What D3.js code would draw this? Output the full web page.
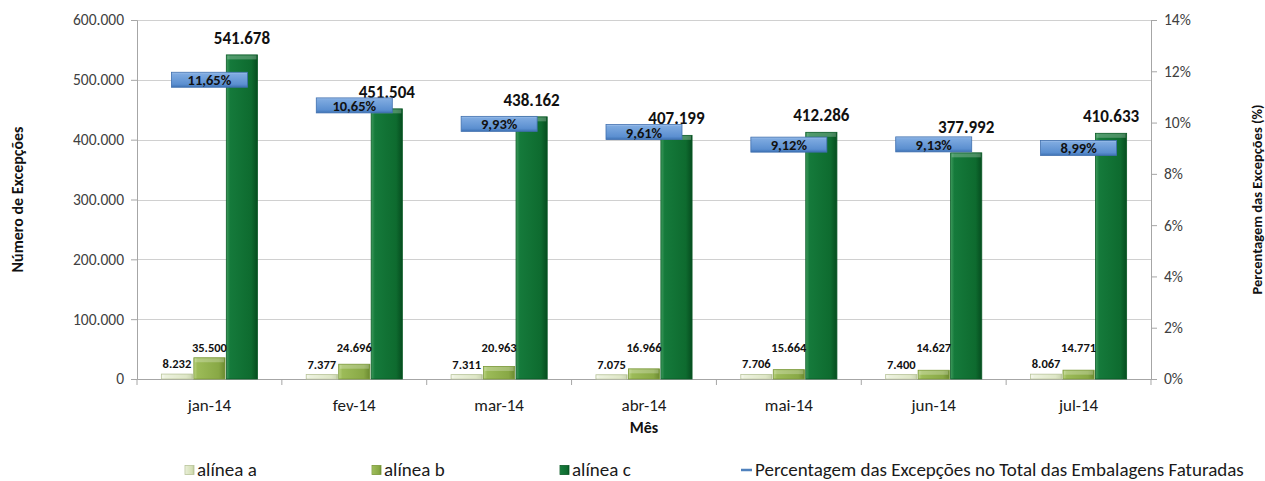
<!DOCTYPE html>
<html>
<head>
<meta charset="utf-8">
<script src="https://cdn.jsdelivr.net/npm/d3@7"></script>
<style>
  body { margin: 0; background: #fff; }
  svg text { font-family: Calibri, Carlito, Lato, "Open Sans", sans-serif; }
</style>
</head>
<body>
<script>
// Data
const months = ["jan-14", "fev-14", "mar-14", "abr-14", "mai-14", "jun-14", "jul-14"];
const alineaA = [8232, 7377, 7311, 7075, 7706, 7400, 8067];
const alineaB = [35500, 24696, 20963, 16966, 15664, 14627, 14771];
const alineaC = [541678, 451504, 438162, 407199, 412286, 377992, 410633];
const percent = [0.1165, 0.1065, 0.0993, 0.0961, 0.0912, 0.0913, 0.0899];
const leftTicks = [0, 100000, 200000, 300000, 400000, 500000, 600000];
const rightTicks = [0, 0.02, 0.04, 0.06, 0.08, 0.10, 0.12, 0.14];

// extra lift (px) of the alínea c labels, as placed in the original
const cLabelLift = [0, 0, 0, 0, 0, 9, 0];

const series = [
  { key: "a", name: "alínea a", values: alineaA },
  { key: "b", name: "alínea b", values: alineaB },
  { key: "c", name: "alínea c", values: alineaC }
];

const width = 1265, height = 481;
const margin = { top: 20, right: 114, bottom: 102, left: 137 };
const innerW = width - margin.left - margin.right,
    innerH = height - margin.top - margin.bottom;

const pt = d3.formatLocale({ decimal: ",", thousands: ".", grouping: [3], currency: ["", "€"] });
const fmtNum = pt.format(",.0f");
const fmtPct = pt.format(".2%");
const fmtTickPct = pt.format(".0%");

const svg = d3.select("body").append("svg")
    .attr("width", width)
    .attr("height", height);

// gradients for the bevelled bars
const defs = svg.append("defs");
const gradients = {
  a: ["#f6f8ee", "#e6edd3", "#d3deb4", "#b9c797"],
  b: ["#b9d281", "#9cbb58", "#88a845", "#6b8a30"],
  c: ["#3d9a5c", "#157a3b", "#0e6b2f", "#064d1f"],
  box: ["#a7c6ee", "#7eaae0", "#5b8fd0", "#3e72b4"]
};
Object.entries(gradients).forEach(([k, c]) => {
  const gr = defs.append("linearGradient").attr("id", "grad-" + k)
      .attr("x1", 0).attr("x2", k === "box" ? 0 : 1).attr("y1", 0).attr("y2", k === "box" ? 1 : 0);
  gr.append("stop").attr("offset", "0%").attr("stop-color", c[0]);
  gr.append("stop").attr("offset", "12%").attr("stop-color", c[1]);
  gr.append("stop").attr("offset", "80%").attr("stop-color", c[2]);
  gr.append("stop").attr("offset", "100%").attr("stop-color", c[3]);
});
const strokes = { a: "#b8c49a", b: "#7a9838", c: "#0a5a26" };

const g = svg.append("g").attr("transform", `translate(${margin.left},${margin.top})`);

const x = d3.scaleBand().domain(months).range([0, innerW]).paddingInner(0).paddingOuter(0);
const xInner = d3.scaleBand().domain(series.map(s => s.key))
    .range([0, x.bandwidth()]).paddingOuter(0.75).paddingInner(0.04);
const y = d3.scaleLinear().domain([0, 600000]).range([innerH, 0]);
const y2 = d3.scaleLinear().domain([0, 0.14]).range([innerH, 0]);

// gridlines
g.append("g").selectAll("line").data(leftTicks.slice(1)).join("line")
    .attr("x1", 0).attr("x2", innerW)
    .attr("y1", d => Math.round(y(d)) + 0.5).attr("y2", d => Math.round(y(d)) + 0.5)
    .attr("stroke", "#d0d0d0");

// left axis
const yAxis = g.append("g")
    .call(d3.axisLeft(y).tickValues(leftTicks).tickFormat(fmtNum).tickSize(6).tickPadding(7));
// right axis
const y2Axis = g.append("g").attr("transform", `translate(${innerW},0)`)
    .call(d3.axisRight(y2).tickValues(rightTicks).tickFormat(fmtTickPct).tickSize(6).tickPadding(7));
// x axis
const xAxis = g.append("g").attr("transform", `translate(0,${innerH})`)
    .call(d3.axisBottom(x).tickSize(0).tickPadding(20));
xAxis.selectAll(".tick").append("line")
    .attr("x1", x.bandwidth() / 2).attr("x2", x.bandwidth() / 2)
    .attr("y1", 0).attr("y2", 6).attr("stroke", "#a6a6a6");
xAxis.append("line").attr("x1", 0).attr("x2", 0)
    .attr("y1", 0).attr("y2", 6).attr("stroke", "#a6a6a6");

[yAxis, y2Axis, xAxis].forEach(a => {
  a.select(".domain").attr("stroke", "#a6a6a6");
  a.selectAll(".tick line").attr("stroke", "#a6a6a6");
  a.selectAll("text").attr("fill", "#404040").style("font-size", "15.5px");
});
xAxis.selectAll(".tick text").style("font-size", "17px").attr("fill", "#1a1a1a");

// bars
const groups = g.append("g").selectAll("g").data(months).join("g")
    .attr("transform", d => `translate(${x(d)},0)`);

series.forEach(s => {
  groups.append("rect")
      .attr("x", xInner(s.key))
      .attr("width", xInner.bandwidth())
      .attr("y", (d, i) => y(s.values[i]))
      .attr("height", (d, i) => innerH - y(s.values[i]))
      .attr("fill", `url(#grad-${s.key})`)
      .attr("stroke", strokes[s.key])
      .attr("stroke-width", 0.8);
  // top bevel highlight
  groups.append("rect")
      .attr("x", xInner(s.key) + 1)
      .attr("width", xInner.bandwidth() - 2)
      .attr("y", (d, i) => y(s.values[i]) + 0.5)
      .attr("height", (d, i) => Math.min(4, innerH - y(s.values[i])))
      .attr("fill", "#ffffff").attr("opacity", 0.25);
});

// value labels; small b labels are kept above the a labels
const labelY = (key, v, i) => {
  if (key === "c") return y(v) - 11 - cLabelLift[i];
  if (key === "b") return Math.min(y(v) - 5, innerH - 27);
  return y(v) - 6;
};
series.forEach(s => {
  groups.append("text")
      .attr("x", xInner(s.key) + xInner.bandwidth() / 2)
      .attr("y", (d, i) => labelY(s.key, s.values[i], i))
      .attr("text-anchor", "middle")
      .attr("font-weight", "bold")
      .style("font-size", s.key === "c" ? "17px" : "12.5px")
      .attr("fill", "#111")
      .text((d, i) => fmtNum(s.values[i]));
});

// percentage labels (the line itself is not drawn, only its data labels)
const boxW = 76, boxH = 15;
const pctLabels = g.append("g").selectAll("g").data(months).join("g")
    .attr("transform", (d, i) => `translate(${x(d) + x.bandwidth() / 2},${y2(percent[i])})`);
pctLabels.append("rect")
    .attr("x", -boxW / 2).attr("y", -boxH / 2 - 0.5)
    .attr("width", boxW).attr("height", boxH)
    .attr("fill", "url(#grad-box)")
    .attr("stroke", "#3f6fae").attr("stroke-width", 0.8);
pctLabels.append("text")
    .attr("y", 5)
    .attr("text-anchor", "middle")
    .attr("font-weight", "bold")
    .style("font-size", "14.5px")
    .attr("fill", "#111")
    .text((d, i) => fmtPct(percent[i]));

// axis titles
svg.append("text")
    .attr("transform", `translate(23,${margin.top + innerH / 2}) rotate(-90)`)
    .attr("text-anchor", "middle").attr("font-weight", "bold")
    .style("font-size", "16px").attr("fill", "#111")
    .text("Número de Excepções");
svg.append("text")
    .attr("transform", `translate(1262,${margin.top + innerH / 2}) rotate(-90)`)
    .attr("text-anchor", "middle").attr("font-weight", "bold")
    .style("font-size", "14.5px").attr("fill", "#111")
    .text("Percentagem das Excepções  (%)");
svg.append("text")
    .attr("x", margin.left + innerW / 2).attr("y", 433)
    .attr("text-anchor", "middle").attr("font-weight", "bold")
    .style("font-size", "16px").attr("fill", "#111")
    .text("Mês");

// legend
const legendItems = [
  { name: "alínea a", key: "a", x: 185 },
  { name: "alínea b", key: "b", x: 372 },
  { name: "alínea c", key: "c", x: 560 },
  { name: "Percentagem das Excepções no Total das Embalagens Faturadas", key: "line", x: 741 }
];
const legend = svg.append("g").selectAll("g").data(legendItems).join("g")
    .attr("transform", d => `translate(${d.x},470)`);
legend.filter(d => d.key !== "line").append("rect")
    .attr("x", 0).attr("y", -4.5).attr("width", 9).attr("height", 9)
    .attr("fill", d => `url(#grad-${d.key})`)
    .attr("stroke", d => strokes[d.key])
    .attr("stroke-width", 0.8);
legend.filter(d => d.key === "line").append("line")
    .attr("x1", 0).attr("x2", 11).attr("y1", 0).attr("y2", 0)
    .attr("stroke", "#4f81bd").attr("stroke-width", 2.5);
legend.append("text")
    .attr("x", d => d.key === "line" ? 14 : 12).attr("y", 5.5)
    .style("font-size", "19px").attr("fill", "#1a1a1a")
    .text(d => d.name);
</script>
</body>
</html>
